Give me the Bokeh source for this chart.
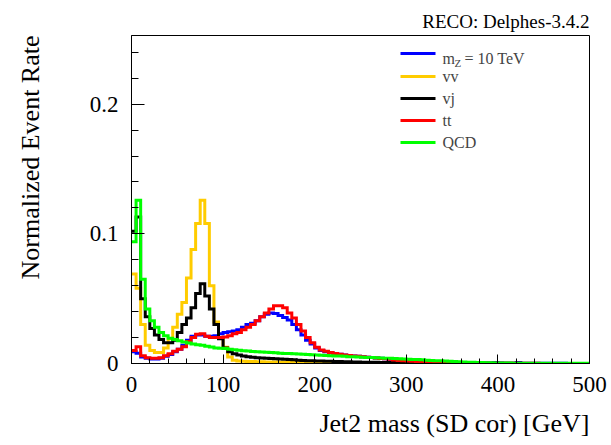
import numpy as np
from bokeh.plotting import figure
from bokeh.models import Range1d, FixedTicker, CustomJSTickFormatter, Label, Title
from bokeh.embed import file_html
from bokeh.resources import INLINE

# ---------------- data (5 GeV bins, 0-500 GeV) ----------------
bin_edges = list(range(0, 505, 5))

signal_mz10 = [
    0.009, 0.008, 0.005, 0.004, 0.0035, 0.0035, 0.004, 0.0055, 0.007, 0.009,
    0.011, 0.014, 0.018, 0.021, 0.022, 0.022, 0.021, 0.021, 0.0215, 0.023,
    0.024, 0.0245, 0.025, 0.026, 0.028, 0.030, 0.031, 0.033, 0.036, 0.038,
    0.039, 0.0385, 0.037, 0.0355, 0.0335, 0.030, 0.026, 0.022, 0.018, 0.015,
    0.012, 0.010, 0.009, 0.0083, 0.0077, 0.0071, 0.0066, 0.0062, 0.0058, 0.0055,
    0.0052, 0.0049, 0.0046, 0.0043, 0.0040, 0.0036, 0.0032, 0.0028, 0.0025, 0.0022,
    0.0020, 0.0018, 0.0016, 0.0014, 0.0012, 0.0011, 0.0010, 0.0009, 0.0008, 0.0007,
    0.0006, 0.0006, 0.0005, 0.0005, 0.0004, 0.0004, 0.0004, 0.0003, 0.0003, 0.0008,
    0.0003, 0.0002, 0.0002, 0.0002, 0.0007, 0.0002, 0.0001, 0.0001, 0.0001, 0.0001,
    0.0001, 0.0001, 0.0001, 0.0001, 0.0001, 0.0, 0.0, 0.0, 0.0, 0.0,
]

vv = [
    0.069, 0.058, 0.030, 0.014, 0.010, 0.0085, 0.0085, 0.012, 0.019, 0.028,
    0.038, 0.047, 0.066, 0.088, 0.108, 0.126, 0.108, 0.060, 0.032, 0.020,
    0.0125, 0.005, 0.0025, 0.002, 0.0018, 0.0016, 0.0015, 0.0014, 0.0013, 0.0012,
    0.0011, 0.0011, 0.0010, 0.0010, 0.0009, 0.0009, 0.0008, 0.0008, 0.0007, 0.0007,
    0.0006, 0.0006, 0.0006, 0.0005, 0.0005, 0.0005, 0.0004, 0.0004, 0.0004, 0.0004,
    0.0003, 0.0003, 0.0003, 0.0003, 0.0003, 0.0002, 0.0002, 0.0002, 0.0002, 0.0002,
    0.0002, 0.0002, 0.0001, 0.0001, 0.0001, 0.0001, 0.0001, 0.0001, 0.0001, 0.0001,
    0.0001, 0.0001, 0.0001, 0.0001, 0.0001, 0.0001, 0.0001, 0.0, 0.0, 0.0,
    0.0, 0.0, 0.0, 0.0, 0.0, 0.0, 0.0, 0.0, 0.0, 0.0,
    0.0, 0.0, 0.0, 0.0, 0.0, 0.0, 0.0, 0.0, 0.0, 0.0,
]

vj = [
    0.102, 0.113, 0.050, 0.036, 0.027, 0.022, 0.0185, 0.016, 0.016, 0.018,
    0.024, 0.030, 0.035, 0.043, 0.054, 0.0615, 0.052, 0.042, 0.030, 0.019,
    0.012, 0.009, 0.0075, 0.0065, 0.0058, 0.0052, 0.0048, 0.0045, 0.0042, 0.0040,
    0.0038, 0.0036, 0.0034, 0.0032, 0.0030, 0.0028, 0.0026, 0.0024, 0.0022, 0.0021,
    0.0020, 0.0019, 0.0018, 0.0017, 0.0016, 0.0015, 0.0014, 0.0013, 0.0012, 0.0011,
    0.0010, 0.0010, 0.0009, 0.0009, 0.0008, 0.0008, 0.0007, 0.0007, 0.0006, 0.0006,
    0.0005, 0.0005, 0.0004, 0.0004, 0.0004, 0.0003, 0.0003, 0.0003, 0.0002, 0.0002,
    0.0002, 0.0002, 0.0002, 0.0001, 0.0001, 0.0001, 0.0001, 0.0001, 0.0001, 0.0001,
    0.0001, 0.0001, 0.0001, 0.0001, 0.0001, 0.0, 0.0, 0.0, 0.0, 0.0,
    0.0, 0.0, 0.0, 0.0, 0.0, 0.0, 0.0, 0.0, 0.0, 0.0,
]

tt = [
    0.010, 0.013, 0.006, 0.0045, 0.004, 0.004, 0.0045, 0.006, 0.0075, 0.0095,
    0.011, 0.013, 0.017, 0.020, 0.0225, 0.023, 0.021, 0.020, 0.020, 0.020,
    0.0205, 0.0215, 0.023, 0.024, 0.026, 0.028, 0.030, 0.033, 0.036, 0.039,
    0.042, 0.0445, 0.0445, 0.043, 0.039, 0.035, 0.030, 0.025, 0.020, 0.016,
    0.0125, 0.0105, 0.0095, 0.0085, 0.0078, 0.0072, 0.0066, 0.0062, 0.0058, 0.0055,
    0.0052, 0.0049, 0.0046, 0.0043, 0.0039, 0.0036, 0.0032, 0.0027, 0.0023, 0.0021,
    0.0019, 0.0017, 0.0015, 0.0013, 0.0011, 0.0010, 0.0009, 0.0008, 0.0007, 0.0006,
    0.0005, 0.0004, 0.0004, 0.0003, 0.0003, 0.0002, 0.0002, 0.0002, 0.0001, 0.0001,
    0.0001, 0.0001, 0.0001, 0.0001, 0.0001, 0.0001, 0.0001, 0.0001, 0.0001, 0.0,
    0.0, 0.0, 0.0, 0.0, 0.0, 0.0, 0.0, 0.0, 0.0, 0.0,
]

qcd = [
    0.094, 0.126, 0.065, 0.042, 0.033, 0.028, 0.024, 0.0215, 0.0195, 0.0185,
    0.0175, 0.0165, 0.0158, 0.015, 0.0145, 0.014, 0.0133, 0.0127, 0.012, 0.0118,
    0.0115, 0.011, 0.0106, 0.0102, 0.0099, 0.0096, 0.0093, 0.0090, 0.0088, 0.0086,
    0.0084, 0.0082, 0.0080, 0.0078, 0.0077, 0.0075, 0.0073, 0.0071, 0.0069, 0.0067,
    0.0065, 0.0063, 0.0062, 0.0060, 0.0058, 0.0057, 0.0055, 0.0053, 0.0052, 0.0050,
    0.0049, 0.0047, 0.0046, 0.0044, 0.0043, 0.0041, 0.0040, 0.0038, 0.0036, 0.0035,
    0.0033, 0.0031, 0.0030, 0.0028, 0.0026, 0.0024, 0.0022, 0.0021, 0.0019, 0.0017,
    0.0015, 0.0014, 0.0012, 0.0010, 0.0009, 0.0008, 0.0007, 0.0006, 0.0005, 0.0004,
    0.0003, 0.0003, 0.0003, 0.0002, 0.0002, 0.0002, 0.0002, 0.0002, 0.0001, 0.0001,
    0.0001, 0.0001, 0.0001, 0.0001, 0.0001, 0.0001, 0.0001, 0.0001, 0.0001, 0.0001,
]

series_labels = ["vv", "vj", "tt", "QCD"]
series_colors = {"mz10": "#0000ff", "vv": "#ffcc00", "vj": "#000000",
                 "tt": "#ff0000", "QCD": "#00ff00"}

x_ticks = [0, 100, 200, 300, 400, 500]
y_ticks = [0, 0.1, 0.2]
x_title = "Jet2 mass (SD cor) [GeV]"
y_title = "Normalized Event Rate"
corner_text = "RECO: Delphes-3.4.2"

# ---------------- layout ----------------
W, H = 611, 445
FL, FR, FT, FB = 131, 589, 35, 363     # frame edges in pixels
XMAX, YMAX = 500, 0.253
SERIF = "Liberation Serif"


def dx(px):
    return (px - FL) / (FR - FL) * XMAX


def dy(py):
    return (FB - py) / (FB - FT) * YMAX


p = figure(width=W, height=H, x_range=Range1d(0, XMAX), y_range=Range1d(0, YMAX),
           output_backend="svg", toolbar_location=None,
           min_border_left=FL, min_border_right=W - FR,
           min_border_top=FT, min_border_bottom=H - FB,
           title=corner_text, title_location="above")
p.grid.visible = False
p.outline_line_color = "black"
p.outline_line_width = 1
p.background_fill_color = "white"
p.border_fill_color = "white"


def style_title(t, size, standoff):
    t.text_font = SERIF
    t.text_font_size = size
    t.text_font_style = "normal"
    t.text_color = "black"
    t.align = "right"
    t.standoff = standoff


style_title(p.title, "19px", 8)

p.xaxis.ticker = FixedTicker(ticks=x_ticks, minor_ticks=list(range(0, 501, 20)))
p.yaxis.ticker = FixedTicker(ticks=y_ticks, minor_ticks=[round(0.02 * i, 2) for i in range(13)])
p.yaxis.formatter = CustomJSTickFormatter(code="return String(Math.round(tick*10)/10);")

# axis labels are tiny blank spacers; they only push the real titles outward
for ax, mj, mn, so, gap in ((p.xaxis, 9, 5, 13, 8), (p.yaxis, 13, 7, 13, 38)):
    ax.major_tick_in = mj
    ax.major_tick_out = 0
    ax.minor_tick_in = mn
    ax.minor_tick_out = 0
    ax.major_tick_line_color = "black"
    ax.minor_tick_line_color = "black"
    ax.axis_line_color = "black"
    ax.major_label_text_font = SERIF
    ax.major_label_text_font_size = "23px"
    ax.major_label_text_color = "black"
    ax.major_label_standoff = so
    ax.axis_label = " "
    ax.axis_label_text_font_size = "1px"
    ax.axis_label_standoff = gap

x_title_obj = Title(text=x_title)
style_title(x_title_obj, "26px", 0)
p.add_layout(x_title_obj, "below")

y_title_obj = Title(text=y_title)
style_title(y_title_obj, "26px", 0)
p.add_layout(y_title_obj, "left")

# ---------------- histograms ----------------
def draw(vals, color):
    p.step(x=bin_edges, y=list(vals) + [vals[-1]], mode="after",
           line_color=color, line_width=3, line_join="miter")

draw(signal_mz10, series_colors["mz10"])
draw(vv, series_colors["vv"])
draw(vj, series_colors["vj"])
draw(tt, series_colors["tt"])
draw(qcd, series_colors["QCD"])

# ---------------- legend (manual, no border) ----------------
rows = [53, 76, 98, 120, 142]
keys = ["mz10", "vv", "vj", "tt", "QCD"]
LEG_FS = 16
for key, row in zip(keys, rows):
    p.line([dx(400), dx(435)], [dy(row), dy(row)], line_color=series_colors[key], line_width=3)

base0 = rows[0] + 0.33 * LEG_FS
p.add_layout(Label(x=dx(442), y=dy(base0), text="m", text_font=SERIF,
                   text_font_size=f"{LEG_FS}px", text_baseline="alphabetic"))
p.add_layout(Label(x=dx(454), y=dy(base0 + 4), text="Z", text_font=SERIF,
                   text_font_size="11px", text_baseline="alphabetic"))
p.add_layout(Label(x=dx(464), y=dy(base0), text="= 10 TeV", text_font=SERIF,
                   text_font_size=f"{LEG_FS}px", text_baseline="alphabetic"))
for lab, row in zip(series_labels, rows[1:]):
    p.add_layout(Label(x=dx(442), y=dy(row), text=lab, text_font=SERIF,
                       text_font_size=f"{LEG_FS}px", text_baseline="middle"))

open("out.html", "w").write(file_html(p, INLINE))
